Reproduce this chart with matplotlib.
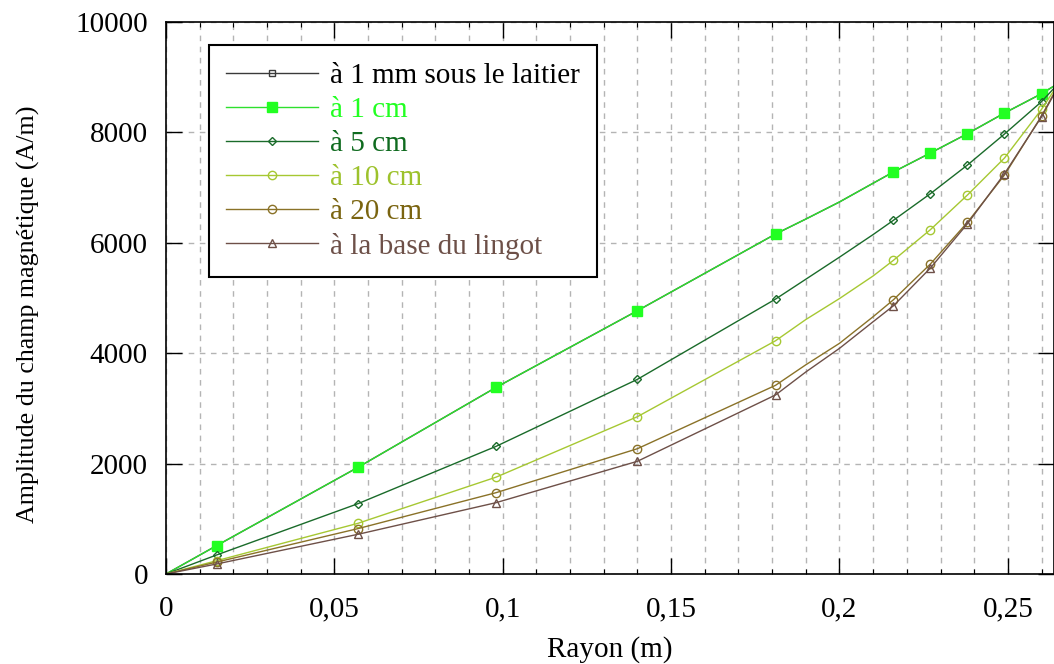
import numpy as np
import matplotlib
matplotlib.use('Agg')
import matplotlib.pyplot as plt
from matplotlib.ticker import MultipleLocator

# rayon (m) et amplitude (A/m)
rayon = [0, 0.015, 0.057, 0.098, 0.14, 0.181, 0.19, 0.2, 0.21,
         0.216, 0.227, 0.238, 0.249, 0.26, 0.2637]
h_1mm = [0, 513, 1932, 3380, 4770, 6159, 6430, 6740, 7080,
         7283, 7627, 7977, 8351, 8701, 8840]
h_1cm = [0, 513, 1932, 3380, 4770, 6159, 6430, 6740, 7080,
         7283, 7627, 7977, 8351, 8701, 8840]
h_5cm = [0, 344, 1274, 2312, 3527, 4980, 5340, 5740, 6150,
         6407, 6890, 7409, 7971, 8557, 8800]
h_10cm = [0, 240, 918, 1754, 2850, 4225, 4610, 4990, 5400,
          5682, 6238, 6866, 7536, 8418, 8760]
h_20cm = [0, 215, 822, 1473, 2270, 3418, 3790, 4179, 4662,
          4967, 5616, 6371, 7228, 8297, 8710]
h_base = [0, 181, 719, 1292, 2042, 3243, 3660, 4088, 4571,
          4858, 5543, 6346, 7252, 8284, 8690]
marker_idx = [1, 2, 3, 4, 5, 9, 10, 11, 12, 13]

series = [
    (h_1mm, 'à 1 mm sous le laitier', '#3a3a3a', 's', 5, 'none', '#000000'),
    (h_1cm, 'à 1 cm', '#2ee02e', 's', 7, '#22ff22', '#22ff22'),
    (h_5cm, 'à 5 cm', '#1a6b2a', 'D', 4.5, 'none', '#0f6b1f'),
    (h_10cm, 'à 10 cm', '#a6c832', 'o', 6, 'none', '#9dc22c'),
    (h_20cm, 'à 20 cm', '#8a7228', 'o', 6, 'none', '#7a6410'),
    (h_base, 'à la base du lingot', '#6e5048', '^', 5.5, 'none', '#6d5048'),
]

xtick_vals = [0, 0.05, 0.1, 0.15, 0.2, 0.25]
xtick_labels = ['0', '0,05', '0,1', '0,15', '0,2', '0,25']
ytick_vals = [0, 2000, 4000, 6000, 8000, 10000]

plt.rcParams['font.family'] = 'Liberation Serif'
plt.rcParams['font.size'] = 21

fig = plt.figure(figsize=(10.54, 6.64), dpi=100)
ax = fig.add_axes([166 / 1054, 1 - 574 / 664, 1 - 166 / 1054, (574 - 22) / 664])

for h, lab, col, mk, ms, fc, tcol in series:
    ax.plot(rayon, h, color=col, lw=1.0, marker=mk, markersize=ms,
            markerfacecolor=fc, markeredgecolor=col if fc == 'none' else fc,
            markeredgewidth=1.0, markevery=marker_idx, label=lab)

ax.set_xlim(0, 0.2637)
ax.set_ylim(0, 10000)
ax.set_xticks(xtick_vals)
ax.set_xticklabels(xtick_labels)
ax.set_yticks(ytick_vals)
ax.xaxis.set_minor_locator(MultipleLocator(0.01))

ax.grid(True, which='both', axis='x', color='#b4b4b4', ls=(0, (4, 4)), lw=1)
ax.grid(True, which='major', axis='y', color='#b4b4b4', ls=(0, (4, 4)), lw=1)
ax.set_axisbelow(True)

ax.tick_params(which='major', direction='in', length=11.5, width=1,
               top=True, right=True)
ax.tick_params(which='minor', direction='in', length=3.5, width=0.8,
               top=True, bottom=True)
ax.tick_params(axis='y', pad=13)
ax.tick_params(axis='x', pad=16)
for sp in ax.spines.values():
    sp.set_linewidth(1.2)

ax.set_xlabel('Rayon (m)', labelpad=10)
ax.set_ylabel('Amplitude du champ magnétique (A/m)', fontsize=18.7)
ax.yaxis.set_label_coords(-0.142, 0.47)

leg = ax.legend(loc='upper left', bbox_to_anchor=(0.0484, 0.958),
                borderaxespad=0, fancybox=False, framealpha=1,
                edgecolor='black', handlelength=3.15, handletextpad=0.4,
                labelspacing=0.26, borderpad=0.6)
leg.get_frame().set_linewidth(1.5)
for txt, s in zip(leg.get_texts(), series):
    txt.set_color(s[6])

fig.savefig('out.png', dpi=100, facecolor='w')
